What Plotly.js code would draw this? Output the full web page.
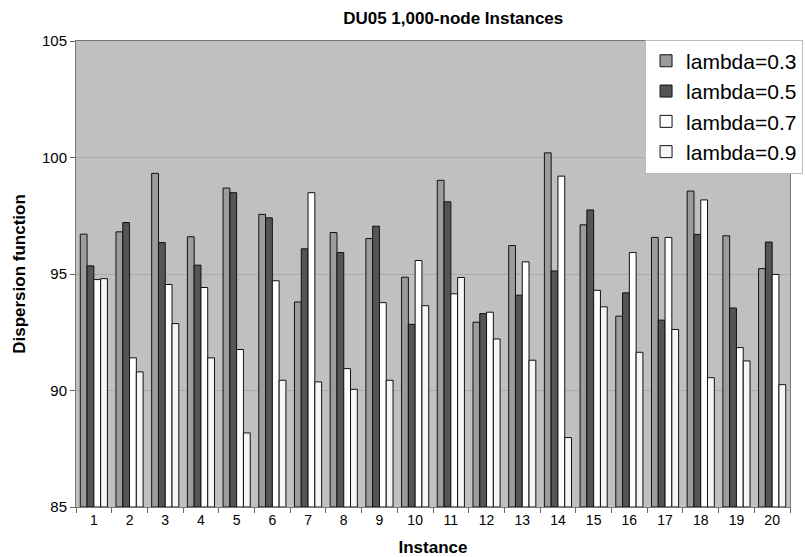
<!DOCTYPE html>
<html>
<head>
<meta charset="utf-8">
<script src="https://cdn.plot.ly/plotly-3.0.1.min.js"></script>
<style>html,body{margin:0;padding:0;background:#fff;}#chart{width:805px;height:557px;}</style>
</head>
<body>
<div id="chart"></div>
<script>
const instances = ['1','2','3','4','5','6','7','8','9','10','11','12','13','14','15','16','17','18','19','20'];
const lambda03 = [96.71, 96.81, 99.32, 96.60, 98.69, 97.56, 93.80, 96.78, 96.52, 94.86, 99.02, 92.93, 96.22, 100.20, 97.11, 93.19, 96.57, 98.56, 96.64, 95.23];
const lambda05 = [95.35, 97.21, 96.35, 95.38, 98.49, 97.41, 96.08, 95.92, 97.05, 92.84, 98.10, 93.30, 94.09, 95.13, 97.75, 94.19, 93.02, 96.70, 93.54, 96.37];
const lambda07 = [94.76, 91.40, 94.55, 94.42, 91.76, 94.71, 98.49, 90.94, 93.77, 95.58, 94.15, 93.36, 95.52, 99.20, 94.30, 95.92, 96.57, 98.18, 91.84, 94.98];
const lambda09 = [94.80, 90.80, 92.87, 91.40, 88.18, 90.44, 90.37, 90.05, 90.44, 93.64, 94.85, 92.21, 91.30, 87.98, 93.59, 91.64, 92.62, 90.55, 91.27, 90.25];
const seriesNames = ['lambda=0.3', 'lambda=0.5', 'lambda=0.7', 'lambda=0.9'];
const seriesValues = [lambda03, lambda05, lambda07, lambda09];
const seriesColors = ['#9c9c9c', '#555555', '#ffffff', '#f6f6f6'];
const axisMin = 85;

const traces = seriesValues.map((vals, i) => ({
  type: 'bar',
  name: seriesNames[i],
  x: instances,
  y: vals.map(v => v - axisMin),
  base: axisMin,
  marker: {color: seriesColors[i], line: {color: '#111', width: 1}}
}));

const layout = {
  width: 805, height: 557,
  margin: {l: 76, r: 15, t: 41, b: 50, autoexpand: false},
  paper_bgcolor: '#ffffff',
  plot_bgcolor: '#c0c0c0',
  font: {family: 'Liberation Sans, Arial, sans-serif', color: '#000', size: 15},
  title: {text: '<b>DU05 1,000-node Instances</b>', font: {size: 17}, x: 0.563, xanchor: 'center', y: 0.978, yanchor: 'top'},
  barmode: 'group',
  bargap: 0.24,
  bargroupgap: 0,
  showlegend: true,
  legend: {x: 0.797, xanchor: 'left', y: 1.003, yanchor: 'top', bgcolor: '#ffffff', bordercolor: '#bbb', borderwidth: 1,
           font: {size: 21}, traceorder: 'normal', itemwidth: 30, tracegroupgap: 0},
  xaxis: {
    type: 'category',
    title: {text: '<b>Instance</b>', font: {size: 17}, standoff: 14},
    tickson: 'boundaries', ticks: 'outside', ticklen: 5, tickcolor: '#666',
    showline: true, linecolor: '#777', linewidth: 1, mirror: true,
    showgrid: false, tickfont: {size: 14}
  },
  yaxis: {
    range: [85, 105],
    tickvals: [85, 90, 95, 100, 105],
    title: {text: '<b>Dispersion function</b>', font: {size: 17}, standoff: 12},
    ticks: 'outside', ticklen: 5, tickcolor: '#666',
    showline: true, linecolor: '#777', linewidth: 1, mirror: true,
    showgrid: true, gridcolor: '#aaaaaa', gridwidth: 1,
    zeroline: false, tickfont: {size: 15}
  }
};
Plotly.newPlot('chart', traces, layout, {displayModeBar: false, staticPlot: true});
</script>
</body>
</html>
